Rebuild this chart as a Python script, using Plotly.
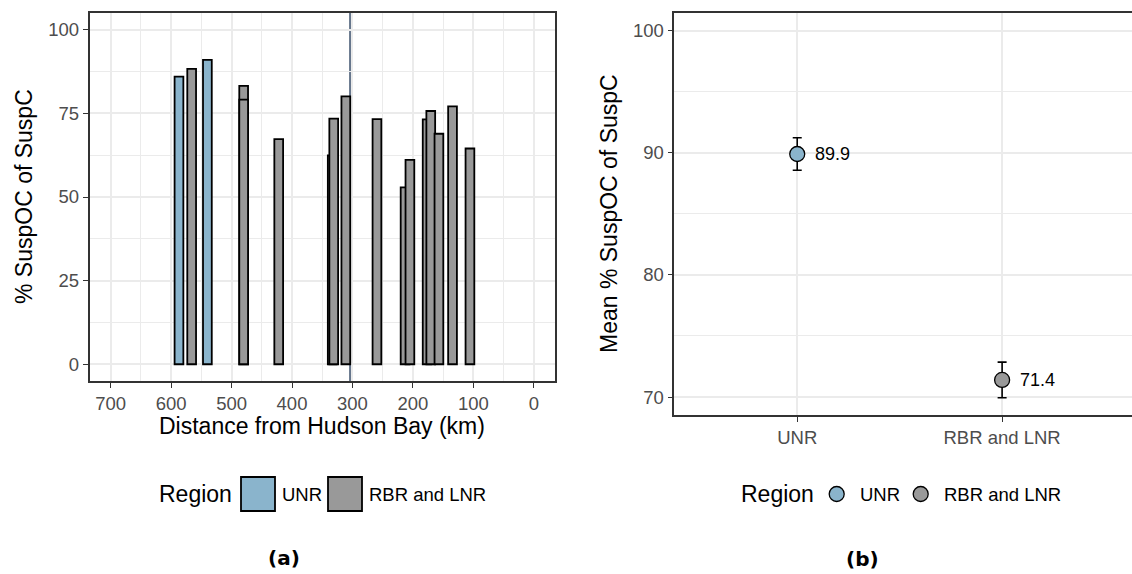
import plotly.graph_objects as go

W, H = 1132, 574

# ---------------- data ----------------
# panel (a): bars, distance from Hudson Bay (km) and % SuspOC of SuspC
unr_dist = [587, 540]
unr_pct = [86.0, 91.0]
rbr_dist = [566, 480, 480, 422, 333.5, 331, 311, 259.5, 213, 205, 176.5, 170.5, 157, 134.5, 105.7]
rbr_pct = [88.3, 83.2, 79.1, 67.3, 62.4, 73.4, 80.1, 73.3, 52.9, 61.1, 73.2, 75.7, 68.9, 77.1, 64.5]
ref_line_km = 304

x_ticks_a = [700, 600, 500, 400, 300, 200, 100, 0]
y_ticks_a = [0, 25, 50, 75, 100]

# panel (b): mean with error bars
regions = ["UNR", "RBR and LNR"]
means = [89.9, 71.4]
errs = [1.33, 1.46]
y_ticks_b = [70, 80, 90, 100]

# ---------------- style ----------------
BLUE = "#8AB4CC"
GREY = "#999999"
FRAME = "#333333"
GRID = "#EBEBEB"
TICKTXT = "#4D4D4D"
FONT = "Liberation Sans, Arial, sans-serif"


def px(x):
    return x / W


def py(y):
    return 1 - y / H


fig = go.Figure()

fig.add_trace(go.Bar(x=unr_dist, y=unr_pct, width=14.5, name="UNR",
                     marker=dict(color=BLUE, line=dict(color="black", width=1.8)),
                     xaxis="x", yaxis="y", showlegend=False))
fig.add_trace(go.Bar(x=rbr_dist, y=rbr_pct, width=14.5, name="RBR and LNR",
                     marker=dict(color=GREY, line=dict(color="black", width=1.8)),
                     xaxis="x", yaxis="y", showlegend=False))

colors_b = [BLUE, GREY]
for r, m, e, c in zip(regions, means, errs, colors_b):
    fig.add_trace(go.Scatter(x=[r], y=[m], mode="markers", name=r,
                             error_y=dict(type="data", array=[e], color="black",
                                          thickness=1.6, width=4.5),
                             marker=dict(size=15, color=c, line=dict(color="black", width=1.3)),
                             xaxis="x2", yaxis="y2", showlegend=False))

axis_common = dict(showline=True, linecolor=FRAME, linewidth=1.5,
                   ticks="outside", ticklen=5, tickwidth=1.3, tickcolor=FRAME,
                   showgrid=True, gridcolor=GRID, gridwidth=1.7, zeroline=False,
                   tickfont=dict(family=FONT, size=18.5, color=TICKTXT))

fig.update_layout(
    width=W, height=H, margin=dict(l=0, r=0, t=0, b=0),
    paper_bgcolor="white", plot_bgcolor="white", barmode="overlay",
    xaxis=dict(domain=[px(89.5), px(555)], anchor="y", range=[735, -35],
               tickvals=x_ticks_a, mirror=True,
               minor=dict(dtick=50, tick0=0, showgrid=True, gridcolor=GRID, gridwidth=1.1, ticklen=0),
               **axis_common),
    yaxis=dict(domain=[py(381), py(13)], anchor="x", range=[-5, 105],
               tickvals=y_ticks_a, mirror=True,
               minor=dict(dtick=12.5, tick0=0, showgrid=True, gridcolor=GRID, gridwidth=1.1, ticklen=0),
               **axis_common),
    xaxis2=dict(domain=[px(674.3), 1.0], anchor="y2", type="category",
                categoryorder="array", categoryarray=regions,
                range=[-0.6, 1.634], mirror=True, **axis_common),
    yaxis2=dict(domain=[py(415), py(12.7)], anchor="x2", range=[68.53, 101.47],
                tickvals=y_ticks_b, mirror=False,
                minor=dict(dtick=5, tick0=0, showgrid=True, gridcolor=GRID, gridwidth=1.1, ticklen=0),
                **axis_common),
)

shapes = []
# reference line in panel (a)
shapes.append(dict(type="line", xref="x", yref="paper", x0=ref_line_km, x1=ref_line_km,
                   y0=py(381), y1=py(13), line=dict(color="#66768C", width=2), layer="below"))

annotations = []
# point value labels
for r, m in zip(regions, means):
    annotations.append(dict(x=r, y=m, xref="x2", yref="y2", text=f"{m:.1f}",
                            showarrow=False, xanchor="left", yanchor="middle", xshift=16,
                            font=dict(family=FONT, size=18, color="black")))

TITLE_FONT = dict(family=FONT, size=23, color="black")
# axis titles
annotations.append(dict(x=px(322), y=py(426), xref="paper", yref="paper",
                        text="Distance from Hudson Bay (km)", showarrow=False,
                        xanchor="center", yanchor="middle", font=TITLE_FONT))
annotations.append(dict(x=px(24), y=py(197), xref="paper", yref="paper",
                        text="% SuspOC of SuspC", showarrow=False, textangle=-90,
                        xanchor="center", yanchor="middle", font=TITLE_FONT))
annotations.append(dict(x=px(609), y=py(214), xref="paper", yref="paper",
                        text="Mean % SuspOC of SuspC", showarrow=False, textangle=-90,
                        xanchor="center", yanchor="middle", font=TITLE_FONT))

# legend (a)
LEG_LBL = dict(family=FONT, size=18.5, color="black")
annotations.append(dict(x=px(157), y=py(494), xref="paper", yref="paper", text="Region",
                        showarrow=False, xanchor="left", yanchor="middle", font=TITLE_FONT))
for x0, x1, c, lbl, tx in [(241, 275, BLUE, "UNR", 280), (328, 362, GREY, "RBR and LNR", 366.5)]:
    shapes.append(dict(type="rect", xref="paper", yref="paper", x0=px(x0), x1=px(x1),
                       y0=py(511), y1=py(477), fillcolor=c, line=dict(color="black", width=1.8),
                       layer="above"))
    annotations.append(dict(x=px(tx), y=py(494), xref="paper", yref="paper", text=lbl,
                            showarrow=False, xanchor="left", yanchor="middle", font=LEG_LBL))

# legend (b)
annotations.append(dict(x=px(739), y=py(494), xref="paper", yref="paper", text="Region",
                        showarrow=False, xanchor="left", yanchor="middle", font=TITLE_FONT))
for cx, c, lbl, tx in [(836.7, BLUE, "UNR", 857.5), (920.7, GREY, "RBR and LNR", 942)]:
    shapes.append(dict(type="circle", xref="paper", yref="paper", x0=px(cx - 7.5), x1=px(cx + 7.5),
                       y0=py(494 + 7.5), y1=py(494 - 7.5), fillcolor=c,
                       line=dict(color="black", width=1.3), layer="above"))
    annotations.append(dict(x=px(tx), y=py(494), xref="paper", yref="paper", text=lbl,
                            showarrow=False, xanchor="left", yanchor="middle", font=LEG_LBL))

# captions
CAP = dict(family="DejaVu Sans", size=20, color="black")
annotations.append(dict(x=px(284), y=py(558), xref="paper", yref="paper", text="<b>(a)</b>",
                        showarrow=False, xanchor="center", yanchor="middle", font=CAP))
annotations.append(dict(x=px(862), y=py(559), xref="paper", yref="paper", text="<b>(b)</b>",
                        showarrow=False, xanchor="center", yanchor="middle", font=CAP))

fig.update_layout(shapes=shapes, annotations=annotations)
fig.write_html("out.html")
